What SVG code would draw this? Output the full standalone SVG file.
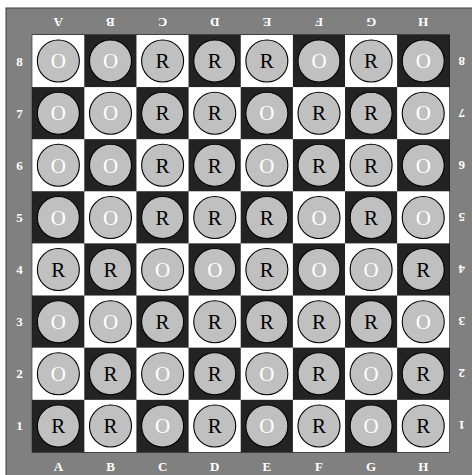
<svg xmlns="http://www.w3.org/2000/svg" width="472" height="475" viewBox="0 0 472 475">
<defs>
<style>
.w{fill:#ffffff}
.d{fill:#232323}
.pc{fill:#c0c0c0;stroke:#000;stroke-width:1.1}
.o{fill:#ffffff;font-family:"Liberation Serif",serif;font-size:21px;text-anchor:middle}
.r{fill:#000000;font-family:"Liberation Serif",serif;font-size:21px;text-anchor:middle}
.lb{fill:#ffffff;font-family:"Liberation Serif",serif;font-size:13px;text-anchor:middle;font-weight:bold}
</style>
</defs>
<rect x="0" y="0" width="472" height="475" fill="#ffffff"/>
<rect x="6" y="8" width="470" height="470" fill="#808080" stroke="#3a3a3a" stroke-width="1"/>
<rect x="32.3" y="35" width="417" height="417" fill="none" stroke="#000" stroke-width="1"/>
<g id="labels">
<text class="lb" x="58.36" y="471">A</text>
<text class="lb" x="110.49" y="471">B</text>
<text class="lb" x="162.61" y="471">C</text>
<text class="lb" x="214.74" y="471">D</text>
<text class="lb" x="266.86" y="471">E</text>
<text class="lb" x="318.99" y="471">F</text>
<text class="lb" x="371.11" y="471">G</text>
<text class="lb" x="423.24" y="471">H</text>
<text class="lb" transform="rotate(180 58.36 22.7)" x="58.36" y="27.2">A</text>
<text class="lb" transform="rotate(180 110.49 22.7)" x="110.49" y="27.2">B</text>
<text class="lb" transform="rotate(180 162.61 22.7)" x="162.61" y="27.2">C</text>
<text class="lb" transform="rotate(180 214.74 22.7)" x="214.74" y="27.2">D</text>
<text class="lb" transform="rotate(180 266.86 22.7)" x="266.86" y="27.2">E</text>
<text class="lb" transform="rotate(180 318.99 22.7)" x="318.99" y="27.2">F</text>
<text class="lb" transform="rotate(180 371.11 22.7)" x="371.11" y="27.2">G</text>
<text class="lb" transform="rotate(180 423.24 22.7)" x="423.24" y="27.2">H</text>
<text class="lb" x="19.5" y="65.6">8</text>
<text class="lb" x="19.5" y="117.7">7</text>
<text class="lb" x="19.5" y="169.8">6</text>
<text class="lb" x="19.5" y="221.9">5</text>
<text class="lb" x="19.5" y="274.1">4</text>
<text class="lb" x="19.5" y="326.2">3</text>
<text class="lb" x="19.5" y="378.3">2</text>
<text class="lb" x="19.5" y="430.4">1</text>
<text class="lb" transform="rotate(180 461.7 61.06)" x="461.7" y="65.6">8</text>
<text class="lb" transform="rotate(180 461.7 113.19)" x="461.7" y="117.7">7</text>
<text class="lb" transform="rotate(180 461.7 165.31)" x="461.7" y="169.8">6</text>
<text class="lb" transform="rotate(180 461.7 217.44)" x="461.7" y="221.9">5</text>
<text class="lb" transform="rotate(180 461.7 269.56)" x="461.7" y="274.1">4</text>
<text class="lb" transform="rotate(180 461.7 321.69)" x="461.7" y="326.2">3</text>
<text class="lb" transform="rotate(180 461.7 373.81)" x="461.7" y="378.3">2</text>
<text class="lb" transform="rotate(180 461.7 425.94)" x="461.7" y="430.4">1</text>
</g>
<g id="A8" transform="translate(32.3,35)"><rect class="w" width="52.13" height="52.13"/><circle class="pc" cx="26.06" cy="26.06" r="21"/><text class="o" x="26.06" y="33.3">O</text></g>
<g id="B8" transform="translate(84.43,35)"><rect class="d" width="52.13" height="52.13"/><circle class="pc" cx="26.06" cy="26.06" r="21"/><text class="o" x="26.06" y="33.3">O</text></g>
<g id="C8" transform="translate(136.55,35)"><rect class="w" width="52.13" height="52.13"/><circle class="pc" cx="26.06" cy="26.06" r="21"/><text class="r" x="26.06" y="33.3">R</text></g>
<g id="D8" transform="translate(188.68,35)"><rect class="d" width="52.13" height="52.13"/><circle class="pc" cx="26.06" cy="26.06" r="21"/><text class="r" x="26.06" y="33.3">R</text></g>
<g id="E8" transform="translate(240.8,35)"><rect class="w" width="52.13" height="52.13"/><circle class="pc" cx="26.06" cy="26.06" r="21"/><text class="r" x="26.06" y="33.3">R</text></g>
<g id="F8" transform="translate(292.93,35)"><rect class="d" width="52.13" height="52.13"/><circle class="pc" cx="26.06" cy="26.06" r="21"/><text class="o" x="26.06" y="33.3">O</text></g>
<g id="G8" transform="translate(345.05,35)"><rect class="w" width="52.13" height="52.13"/><circle class="pc" cx="26.06" cy="26.06" r="21"/><text class="r" x="26.06" y="33.3">R</text></g>
<g id="H8" transform="translate(397.18,35)"><rect class="d" width="52.13" height="52.13"/><circle class="pc" cx="26.06" cy="26.06" r="21"/><text class="o" x="26.06" y="33.3">O</text></g>

<g id="A7" transform="translate(32.3,87.13)"><rect class="d" width="52.13" height="52.13"/><circle class="pc" cx="26.06" cy="26.06" r="21"/><text class="o" x="26.06" y="33.3">O</text></g>
<g id="B7" transform="translate(84.43,87.13)"><rect class="w" width="52.13" height="52.13"/><circle class="pc" cx="26.06" cy="26.06" r="21"/><text class="o" x="26.06" y="33.3">O</text></g>
<g id="C7" transform="translate(136.55,87.13)"><rect class="d" width="52.13" height="52.13"/><circle class="pc" cx="26.06" cy="26.06" r="21"/><text class="r" x="26.06" y="33.3">R</text></g>
<g id="D7" transform="translate(188.68,87.13)"><rect class="w" width="52.13" height="52.13"/><circle class="pc" cx="26.06" cy="26.06" r="21"/><text class="r" x="26.06" y="33.3">R</text></g>
<g id="E7" transform="translate(240.8,87.13)"><rect class="d" width="52.13" height="52.13"/><circle class="pc" cx="26.06" cy="26.06" r="21"/><text class="o" x="26.06" y="33.3">O</text></g>
<g id="F7" transform="translate(292.93,87.13)"><rect class="w" width="52.13" height="52.13"/><circle class="pc" cx="26.06" cy="26.06" r="21"/><text class="r" x="26.06" y="33.3">R</text></g>
<g id="G7" transform="translate(345.05,87.13)"><rect class="d" width="52.13" height="52.13"/><circle class="pc" cx="26.06" cy="26.06" r="21"/><text class="r" x="26.06" y="33.3">R</text></g>
<g id="H7" transform="translate(397.18,87.13)"><rect class="w" width="52.13" height="52.13"/><circle class="pc" cx="26.06" cy="26.06" r="21"/><text class="o" x="26.06" y="33.3">O</text></g>

<g id="A6" transform="translate(32.3,139.25)"><rect class="w" width="52.13" height="52.13"/><circle class="pc" cx="26.06" cy="26.06" r="21"/><text class="o" x="26.06" y="33.3">O</text></g>
<g id="B6" transform="translate(84.43,139.25)"><rect class="d" width="52.13" height="52.13"/><circle class="pc" cx="26.06" cy="26.06" r="21"/><text class="o" x="26.06" y="33.3">O</text></g>
<g id="C6" transform="translate(136.55,139.25)"><rect class="w" width="52.13" height="52.13"/><circle class="pc" cx="26.06" cy="26.06" r="21"/><text class="r" x="26.06" y="33.3">R</text></g>
<g id="D6" transform="translate(188.68,139.25)"><rect class="d" width="52.13" height="52.13"/><circle class="pc" cx="26.06" cy="26.06" r="21"/><text class="r" x="26.06" y="33.3">R</text></g>
<g id="E6" transform="translate(240.8,139.25)"><rect class="w" width="52.13" height="52.13"/><circle class="pc" cx="26.06" cy="26.06" r="21"/><text class="o" x="26.06" y="33.3">O</text></g>
<g id="F6" transform="translate(292.93,139.25)"><rect class="d" width="52.13" height="52.13"/><circle class="pc" cx="26.06" cy="26.06" r="21"/><text class="r" x="26.06" y="33.3">R</text></g>
<g id="G6" transform="translate(345.05,139.25)"><rect class="w" width="52.13" height="52.13"/><circle class="pc" cx="26.06" cy="26.06" r="21"/><text class="r" x="26.06" y="33.3">R</text></g>
<g id="H6" transform="translate(397.18,139.25)"><rect class="d" width="52.13" height="52.13"/><circle class="pc" cx="26.06" cy="26.06" r="21"/><text class="o" x="26.06" y="33.3">O</text></g>

<g id="A5" transform="translate(32.3,191.38)"><rect class="d" width="52.13" height="52.13"/><circle class="pc" cx="26.06" cy="26.06" r="21"/><text class="o" x="26.06" y="33.3">O</text></g>
<g id="B5" transform="translate(84.43,191.38)"><rect class="w" width="52.13" height="52.13"/><circle class="pc" cx="26.06" cy="26.06" r="21"/><text class="o" x="26.06" y="33.3">O</text></g>
<g id="C5" transform="translate(136.55,191.38)"><rect class="d" width="52.13" height="52.13"/><circle class="pc" cx="26.06" cy="26.06" r="21"/><text class="r" x="26.06" y="33.3">R</text></g>
<g id="D5" transform="translate(188.68,191.38)"><rect class="w" width="52.13" height="52.13"/><circle class="pc" cx="26.06" cy="26.06" r="21"/><text class="r" x="26.06" y="33.3">R</text></g>
<g id="E5" transform="translate(240.8,191.38)"><rect class="d" width="52.13" height="52.13"/><circle class="pc" cx="26.06" cy="26.06" r="21"/><text class="r" x="26.06" y="33.3">R</text></g>
<g id="F5" transform="translate(292.93,191.38)"><rect class="w" width="52.13" height="52.13"/><circle class="pc" cx="26.06" cy="26.06" r="21"/><text class="o" x="26.06" y="33.3">O</text></g>
<g id="G5" transform="translate(345.05,191.38)"><rect class="d" width="52.13" height="52.13"/><circle class="pc" cx="26.06" cy="26.06" r="21"/><text class="r" x="26.06" y="33.3">R</text></g>
<g id="H5" transform="translate(397.18,191.38)"><rect class="w" width="52.13" height="52.13"/><circle class="pc" cx="26.06" cy="26.06" r="21"/><text class="o" x="26.06" y="33.3">O</text></g>

<g id="A4" transform="translate(32.3,243.5)"><rect class="w" width="52.13" height="52.13"/><circle class="pc" cx="26.06" cy="26.06" r="21"/><text class="r" x="26.06" y="33.3">R</text></g>
<g id="B4" transform="translate(84.43,243.5)"><rect class="d" width="52.13" height="52.13"/><circle class="pc" cx="26.06" cy="26.06" r="21"/><text class="r" x="26.06" y="33.3">R</text></g>
<g id="C4" transform="translate(136.55,243.5)"><rect class="w" width="52.13" height="52.13"/><circle class="pc" cx="26.06" cy="26.06" r="21"/><text class="o" x="26.06" y="33.3">O</text></g>
<g id="D4" transform="translate(188.68,243.5)"><rect class="d" width="52.13" height="52.13"/><circle class="pc" cx="26.06" cy="26.06" r="21"/><text class="o" x="26.06" y="33.3">O</text></g>
<g id="E4" transform="translate(240.8,243.5)"><rect class="w" width="52.13" height="52.13"/><circle class="pc" cx="26.06" cy="26.06" r="21"/><text class="r" x="26.06" y="33.3">R</text></g>
<g id="F4" transform="translate(292.93,243.5)"><rect class="d" width="52.13" height="52.13"/><circle class="pc" cx="26.06" cy="26.06" r="21"/><text class="o" x="26.06" y="33.3">O</text></g>
<g id="G4" transform="translate(345.05,243.5)"><rect class="w" width="52.13" height="52.13"/><circle class="pc" cx="26.06" cy="26.06" r="21"/><text class="o" x="26.06" y="33.3">O</text></g>
<g id="H4" transform="translate(397.18,243.5)"><rect class="d" width="52.13" height="52.13"/><circle class="pc" cx="26.06" cy="26.06" r="21"/><text class="r" x="26.06" y="33.3">R</text></g>

<g id="A3" transform="translate(32.3,295.63)"><rect class="d" width="52.13" height="52.13"/><circle class="pc" cx="26.06" cy="26.06" r="21"/><text class="o" x="26.06" y="33.3">O</text></g>
<g id="B3" transform="translate(84.43,295.63)"><rect class="w" width="52.13" height="52.13"/><circle class="pc" cx="26.06" cy="26.06" r="21"/><text class="o" x="26.06" y="33.3">O</text></g>
<g id="C3" transform="translate(136.55,295.63)"><rect class="d" width="52.13" height="52.13"/><circle class="pc" cx="26.06" cy="26.06" r="21"/><text class="r" x="26.06" y="33.3">R</text></g>
<g id="D3" transform="translate(188.68,295.63)"><rect class="w" width="52.13" height="52.13"/><circle class="pc" cx="26.06" cy="26.06" r="21"/><text class="r" x="26.06" y="33.3">R</text></g>
<g id="E3" transform="translate(240.8,295.63)"><rect class="d" width="52.13" height="52.13"/><circle class="pc" cx="26.06" cy="26.06" r="21"/><text class="r" x="26.06" y="33.3">R</text></g>
<g id="F3" transform="translate(292.93,295.63)"><rect class="w" width="52.13" height="52.13"/><circle class="pc" cx="26.06" cy="26.06" r="21"/><text class="r" x="26.06" y="33.3">R</text></g>
<g id="G3" transform="translate(345.05,295.63)"><rect class="d" width="52.13" height="52.13"/><circle class="pc" cx="26.06" cy="26.06" r="21"/><text class="r" x="26.06" y="33.3">R</text></g>
<g id="H3" transform="translate(397.18,295.63)"><rect class="w" width="52.13" height="52.13"/><circle class="pc" cx="26.06" cy="26.06" r="21"/><text class="o" x="26.06" y="33.3">O</text></g>

<g id="A2" transform="translate(32.3,347.75)"><rect class="w" width="52.13" height="52.13"/><circle class="pc" cx="26.06" cy="26.06" r="21"/><text class="o" x="26.06" y="33.3">O</text></g>
<g id="B2" transform="translate(84.43,347.75)"><rect class="d" width="52.13" height="52.13"/><circle class="pc" cx="26.06" cy="26.06" r="21"/><text class="r" x="26.06" y="33.3">R</text></g>
<g id="C2" transform="translate(136.55,347.75)"><rect class="w" width="52.13" height="52.13"/><circle class="pc" cx="26.06" cy="26.06" r="21"/><text class="o" x="26.06" y="33.3">O</text></g>
<g id="D2" transform="translate(188.68,347.75)"><rect class="d" width="52.13" height="52.13"/><circle class="pc" cx="26.06" cy="26.06" r="21"/><text class="r" x="26.06" y="33.3">R</text></g>
<g id="E2" transform="translate(240.8,347.75)"><rect class="w" width="52.13" height="52.13"/><circle class="pc" cx="26.06" cy="26.06" r="21"/><text class="o" x="26.06" y="33.3">O</text></g>
<g id="F2" transform="translate(292.93,347.75)"><rect class="d" width="52.13" height="52.13"/><circle class="pc" cx="26.06" cy="26.06" r="21"/><text class="r" x="26.06" y="33.3">R</text></g>
<g id="G2" transform="translate(345.05,347.75)"><rect class="w" width="52.13" height="52.13"/><circle class="pc" cx="26.06" cy="26.06" r="21"/><text class="o" x="26.06" y="33.3">O</text></g>
<g id="H2" transform="translate(397.18,347.75)"><rect class="d" width="52.13" height="52.13"/><circle class="pc" cx="26.06" cy="26.06" r="21"/><text class="r" x="26.06" y="33.3">R</text></g>

<g id="A1" transform="translate(32.3,399.88)"><rect class="d" width="52.13" height="52.13"/><circle class="pc" cx="26.06" cy="26.06" r="21"/><text class="r" x="26.06" y="33.3">R</text></g>
<g id="B1" transform="translate(84.43,399.88)"><rect class="w" width="52.13" height="52.13"/><circle class="pc" cx="26.06" cy="26.06" r="21"/><text class="r" x="26.06" y="33.3">R</text></g>
<g id="C1" transform="translate(136.55,399.88)"><rect class="d" width="52.13" height="52.13"/><circle class="pc" cx="26.06" cy="26.06" r="21"/><text class="o" x="26.06" y="33.3">O</text></g>
<g id="D1" transform="translate(188.68,399.88)"><rect class="w" width="52.13" height="52.13"/><circle class="pc" cx="26.06" cy="26.06" r="21"/><text class="r" x="26.06" y="33.3">R</text></g>
<g id="E1" transform="translate(240.8,399.88)"><rect class="d" width="52.13" height="52.13"/><circle class="pc" cx="26.06" cy="26.06" r="21"/><text class="o" x="26.06" y="33.3">O</text></g>
<g id="F1" transform="translate(292.93,399.88)"><rect class="w" width="52.13" height="52.13"/><circle class="pc" cx="26.06" cy="26.06" r="21"/><text class="r" x="26.06" y="33.3">R</text></g>
<g id="G1" transform="translate(345.05,399.88)"><rect class="d" width="52.13" height="52.13"/><circle class="pc" cx="26.06" cy="26.06" r="21"/><text class="o" x="26.06" y="33.3">O</text></g>
<g id="H1" transform="translate(397.18,399.88)"><rect class="w" width="52.13" height="52.13"/><circle class="pc" cx="26.06" cy="26.06" r="21"/><text class="r" x="26.06" y="33.3">R</text></g>
<g id="connectors"></g>
</svg>
